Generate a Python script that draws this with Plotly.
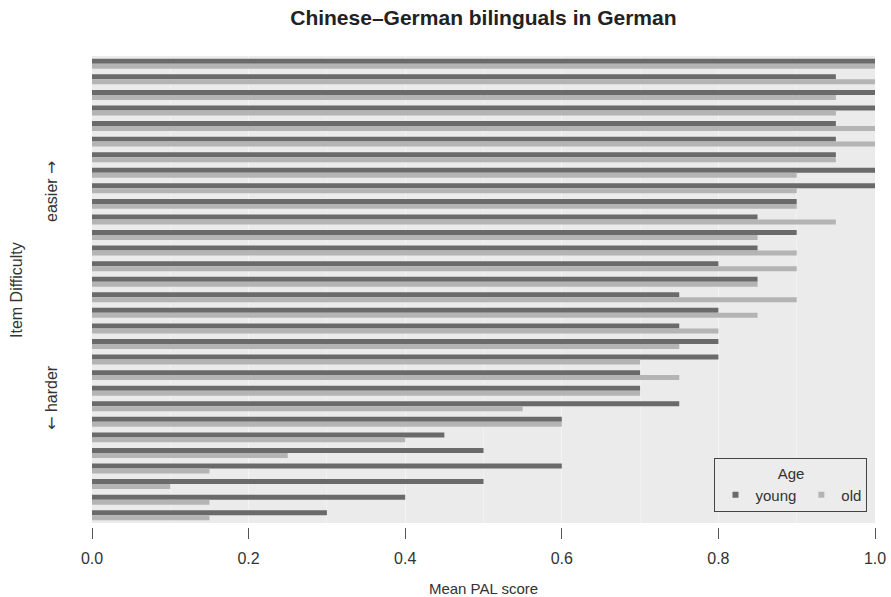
import plotly.graph_objects as go

# Items ordered from easiest (top) to hardest (bottom)
items = [f"Item {i}" for i in range(1, 31)]
young = [1.00, 0.95, 1.00, 1.00, 0.95, 0.95, 0.95, 1.00, 1.00, 0.90,
         0.85, 0.90, 0.85, 0.80, 0.85, 0.75, 0.80, 0.75, 0.80, 0.80,
         0.70, 0.70, 0.75, 0.60, 0.45, 0.50, 0.60, 0.50, 0.40, 0.30]
old = [1.00, 1.00, 0.95, 0.95, 1.00, 1.00, 0.95, 0.90, 0.90, 0.90,
       0.95, 0.85, 0.90, 0.90, 0.85, 0.90, 0.85, 0.80, 0.75, 0.70,
       0.75, 0.70, 0.55, 0.60, 0.40, 0.25, 0.15, 0.10, 0.15, 0.15]
x_ticks = [0.0, 0.2, 0.4, 0.6, 0.8, 1.0]

FONT = "Liberation Sans, Arial, Helvetica, sans-serif"
DARK = "#6a6a6a"
LIGHT = "#b4b4b4"
ARROW = '<span style="font-family:DejaVu Sans">{}</span>'

fig = go.Figure()
fig.add_trace(go.Bar(y=items, x=young, orientation="h", name="young",
                     marker=dict(color=DARK, line=dict(width=0)), showlegend=False))
fig.add_trace(go.Bar(y=items, x=old, orientation="h", name="old",
                     marker=dict(color=LIGHT, line=dict(width=0)), showlegend=False))

# Legend entries with small square keys
for name, col in [("young", DARK), ("old", LIGHT)]:
    fig.add_trace(go.Scatter(x=[None], y=[None], mode="markers", name=name,
                             marker=dict(symbol="square", size=6, color=col)))

# White strip just under the panel so the outside ticks stand off from it
fig.add_shape(type="rect", xref="paper", yref="paper", x0=-0.02, x1=1.02,
              y0=-0.0005, y1=-0.0107, fillcolor="white", line=dict(width=0),
              layer="above")

fig.update_layout(
    width=891, height=597,
    margin=dict(l=92, r=16, t=56, b=74, autoexpand=False),
    paper_bgcolor="white",
    plot_bgcolor="#ebebeb",
    barmode="group",
    bargap=0.36,
    bargroupgap=0.0,
    font=dict(family=FONT, color="#333333", size=15),
    title=dict(text="<b>Chinese\u2013German bilinguals in German</b>",
               x=0.5425, xanchor="center", y=0.971, yanchor="middle",
               font=dict(size=21, color="#222222")),
    xaxis=dict(range=[0, 1], tickvals=x_ticks,
               ticktext=[f"{v:.1f}" for v in x_ticks],
               ticks="outside", ticklen=15, tickcolor="#555555", tickwidth=1,
               ticklabelstandoff=6, automargin=False,
               showline=False, zeroline=False,
               showgrid=True, gridcolor="#f4f4f4", gridwidth=1,
               minor=dict(dtick=0.1, showgrid=True, gridcolor="#f1f1f1", gridwidth=1),
               tickfont=dict(size=16, color="#333333"),
               title=dict(text="Mean PAL score", font=dict(size=15, color="#333333"),
                          standoff=18)),
    yaxis=dict(categoryorder="array", categoryarray=items,
               autorange="reversed", showticklabels=False, ticks="",
               automargin=False,
               showgrid=False, zeroline=False, showline=False),
    legend=dict(orientation="h", x=0.795, y=0.139, xanchor="left", yanchor="top",
                bgcolor="#ececec", bordercolor="#444444", borderwidth=1,
                title=dict(text="Age", side="top center",
                           font=dict(size=15, color="#333333")),
                font=dict(size=15, color="#333333"),
                itemwidth=30, tracegroupgap=0),
    showlegend=True,
)

# Y-axis labelling: title plus direction hints
fig.add_annotation(text="Item Difficulty", x=-0.0958, xref="paper", y=0.499, yref="paper",
                   xanchor="center", yanchor="middle",
                   textangle=-90, showarrow=False, font=dict(size=16, color="#333333"))
fig.add_annotation(text="easier " + ARROW.format("\u2192"), x=-0.051, xref="paper",
                   y=0.709, yref="paper", xanchor="center", yanchor="middle",
                   textangle=-90, showarrow=False,
                   font=dict(size=16, color="#333333"))
fig.add_annotation(text=ARROW.format("\u2190") + " harder", x=-0.051, xref="paper",
                   y=0.268, yref="paper", xanchor="center", yanchor="middle",
                   textangle=-90, showarrow=False,
                   font=dict(size=16, color="#333333"))

fig.write_html("out.html")
